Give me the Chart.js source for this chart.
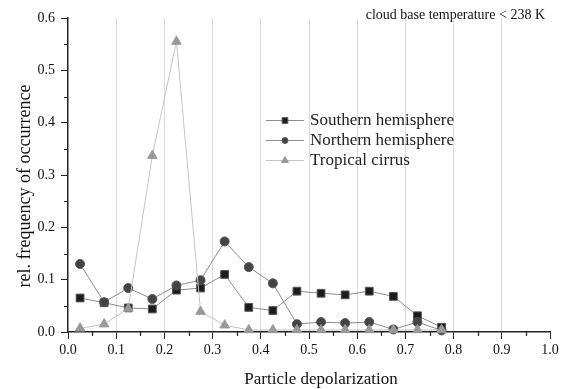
<!DOCTYPE html>
<html>
<head>
<meta charset="utf-8">
<script src="https://cdn.jsdelivr.net/npm/chart.js@4/dist/chart.umd.min.js"></script>
<style>
  html, body { margin: 0; padding: 0; background: #fff; }
  #wrap { width: 563px; height: 389px; }
</style>
</head>
<body>
<div id="wrap"><canvas id="chart-1"></canvas></div>
<script>
// bin centres of particle depolarization
const binCentres = [0.025, 0.075, 0.125, 0.175, 0.225, 0.275, 0.325, 0.375,
  0.425, 0.475, 0.525, 0.575, 0.625, 0.675, 0.725, 0.775];
const southern = [0.065, 0.056, 0.046, 0.044, 0.080, 0.084, 0.110, 0.047,
  0.041, 0.078, 0.074, 0.071, 0.078, 0.068, 0.031, 0.009];
const northern = [0.130, 0.057, 0.084, 0.063, 0.089, 0.099, 0.173, 0.124,
  0.093, 0.015, 0.019, 0.017, 0.019, 0.005, 0.019, 0.003];
const tropical = [0.007, 0.015, 0.045, 0.337, 0.555, 0.039, 0.013, 0.004,
  0.004, 0.004, 0.004, 0.004, 0.004, 0.004, 0.004, 0.004];
const seriesNames = ["Southern hemisphere", "Northern hemisphere", "Tropical cirrus"];
const xTicks = [0, 0.1, 0.2, 0.3, 0.4, 0.5, 0.6, 0.7, 0.8, 0.9, 1.0];
const yTicks = [0, 0.1, 0.2, 0.3, 0.4, 0.5, 0.6];
const xTitle = "Particle depolarization";
const yTitle = "rel. frequency of occurrence";
const note = "cloud base temperature < 238 K";

const serif = "'Liberation Serif', 'Times New Roman', serif";
const axisCol = "#222";

function pts(vals) {
  return vals.map((v, i) => ({ x: binCentres[i], y: v }));
}

// minor ticks, axis titles, legend and note
const extras = {
  id: "extras",
  afterDraw(chart) {
    const c = chart.ctx;
    const xs = chart.scales.x, ys = chart.scales.y;
    const area = chart.chartArea;
    c.save();
    c.strokeStyle = axisCol;
    c.lineWidth = 1.2;
    c.beginPath();
    for (let i = 0; i < xTicks.length - 1; i++) {
      const px = Math.round(xs.getPixelForValue((xTicks[i] + xTicks[i + 1]) / 2)) + 0.5;
      c.moveTo(px, area.bottom);
      c.lineTo(px, area.bottom + 4);
    }
    for (let i = 0; i < yTicks.length - 1; i++) {
      const py = Math.round(ys.getPixelForValue((yTicks[i] + yTicks[i + 1]) / 2)) + 0.5;
      c.moveTo(area.left, py);
      c.lineTo(area.left - 4, py);
    }
    c.stroke();

    // axis titles (sit a little off-centre in the original)
    c.fillStyle = "#111";
    c.textAlign = "center";
    c.textBaseline = "middle";
    c.font = "17px " + serif;
    c.fillText(xTitle, (area.left + area.right) / 2 + 12, 380);
    c.save();
    c.translate(25, (area.top + area.bottom) / 2 + 11);
    c.rotate(-Math.PI / 2);
    c.font = "18px " + serif;
    c.fillText(yTitle, 0, 0);
    c.restore();

    // legend
    c.font = "17px " + serif;
    c.textBaseline = "middle";
    c.textAlign = "left";
    chart.data.datasets.forEach((ds, i) => {
      const y = 120 + i * 20;
      c.strokeStyle = ds.borderColor;
      c.lineWidth = 1;
      c.beginPath();
      c.moveTo(266, y + 0.5);
      c.lineTo(304, y + 0.5);
      c.stroke();
      c.fillStyle = ds.pointBackgroundColor;
      c.strokeStyle = ds.pointBorderColor;
      Chart.helpers.drawPoint(c, {
        pointStyle: ds.pointStyle, radius: ds.pointRadius - 1.5,
        rotation: 0, borderWidth: 1
      }, 285, y + 0.5);
      c.fillStyle = "#222";
      c.fillText(ds.label, 310, y + 1);
    });

    c.font = "14px " + serif;
    c.textAlign = "right";
    c.textBaseline = "alphabetic";
    c.fillStyle = "#111";
    c.fillText(note, 545, 19);
    c.restore();
  }
};

const ctx1 = document.getElementById("chart-1").getContext("2d");
const myChart1 = new Chart(ctx1, {
  type: "line",
  data: {
    datasets: [
      {
        label: seriesNames[0],
        data: pts(southern),
        borderColor: "#8c8c8c",
        borderWidth: 1,
        pointStyle: "rect",
        pointRadius: 5.5,
        pointBackgroundColor: "#1c1c1c",
        pointBorderColor: "#555",
        pointBorderWidth: 1,
        order: 2,
        clip: false,
      },
      {
        label: seriesNames[1],
        data: pts(northern),
        borderColor: "#8c8c8c",
        borderWidth: 1,
        pointStyle: "circle",
        pointRadius: 4.5,
        pointBackgroundColor: "#444",
        pointBorderColor: "#555",
        pointBorderWidth: 1,
        order: 1,
        clip: false,
      },
      {
        label: seriesNames[2],
        data: pts(tropical),
        borderColor: "#c4c4c4",
        borderWidth: 1,
        pointStyle: "triangle",
        pointRadius: 5.5,
        pointBackgroundColor: "#999",
        pointBorderColor: "#999",
        pointBorderWidth: 1,
        order: 0,
        clip: false,
      },
    ],
  },
  options: {
    responsive: true,
    maintainAspectRatio: false,
    animation: false,
    layout: { padding: { top: 18, right: 13, bottom: 0, left: 0 } },
    plugins: {
      legend: { display: false },
      tooltip: { enabled: false },
    },
    scales: {
      x: {
        type: "linear",
        min: 0,
        max: 1,
        afterFit(s) { s.height = 57; },
        afterBuildTicks(s) { s.ticks = xTicks.map(v => ({ value: v })); },
        ticks: {
          color: "#111",
          font: { family: serif, size: 14 },
          padding: 3,
          maxRotation: 0,
          callback: v => v.toFixed(1),
        },
        grid: {
          color: c => (c.tick && c.tick.value > 0.001 && c.tick.value < 0.999) ? "#dcdcdc" : "rgba(0,0,0,0)",
          tickColor: axisCol,
          tickLength: 7,
          lineWidth: 1,
        },
        border: { color: axisCol, width: 1.5 },
      },
      y: {
        min: 0,
        max: 0.6,
        afterFit(s) { s.width = 68; },
        afterBuildTicks(s) { s.ticks = yTicks.map(v => ({ value: v })); },
        ticks: {
          color: "#111",
          font: { family: serif, size: 14 },
          padding: 6,
          callback: v => v.toFixed(1),
        },
        grid: {
          drawOnChartArea: false,
          tickColor: axisCol,
          tickLength: 7,
        },
        border: { color: axisCol, width: 1.5 },
      },
    },
  },
  plugins: [extras],
});
</script>
</body>
</html>
